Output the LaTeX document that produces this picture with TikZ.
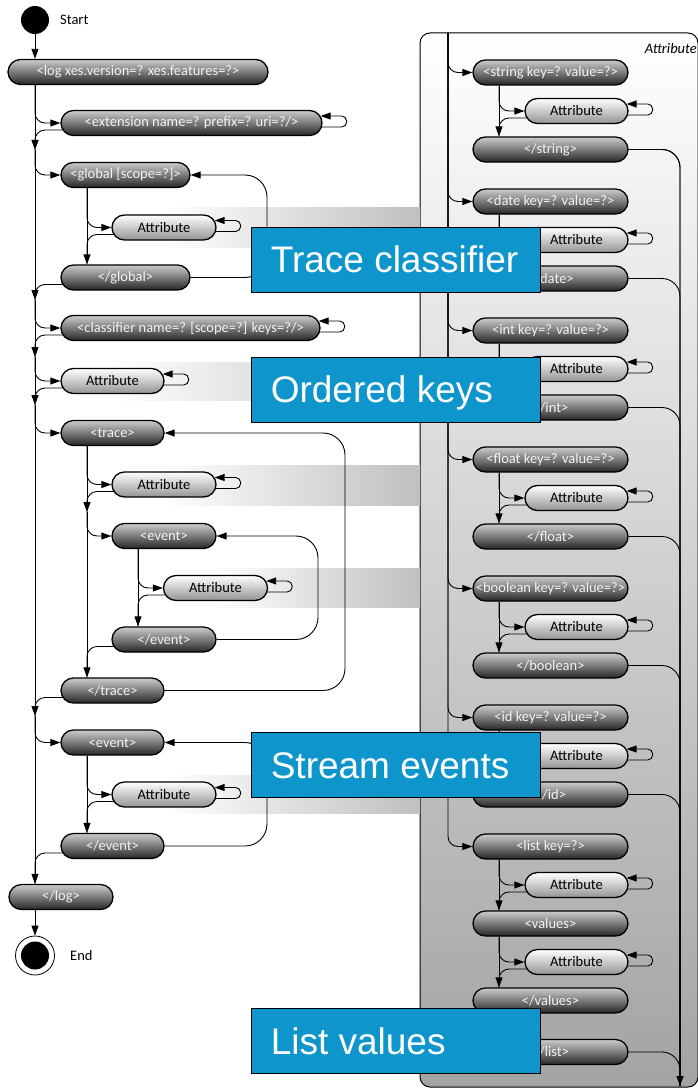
\documentclass[tikz,border=0pt]{standalone}
\usepackage{fontspec}
\setmainfont{Carlito}
\newfontfamily\calloutfont{Liberation Sans}
\usetikzlibrary{arrows.meta,calc}
\pgfdeclarelayer{bgl}
\pgfdeclarelayer{edges}
\pgfdeclarelayer{fgl}
\pgfsetlayers{bgl,edges,main,fgl}
\definecolor{callblue}{RGB}{14,150,204}
\tikzset{
  base/.style={rectangle, rounded corners=12.5pt, minimum height=25pt, inner sep=0pt, line width=1.3pt, draw=black, font=\fontsize{14.5}{15}\selectfont},
  dnode/.style={base, top color=black!20, bottom color=black!85, text=black!5},
  lnode/.style={base, top color=white, bottom color=black!42, text=black, minimum width=104pt},
  conn/.style={draw=black, line width=0.9pt, rounded corners=10pt},
  arr/.style={conn, -{Triangle[length=10pt,width=7pt]}},
  loopc/.style={arr, rounded corners=5pt},
  retc/.style={conn, rounded corners=18pt},
  retarr/.style={retc, -{Triangle[length=10pt,width=7pt]}},
  bigret/.style={arr, rounded corners=22pt},
  lbl/.style={font=\fontsize{14.5}{15}\selectfont, inner sep=0pt},
  callbox/.style={draw=black, line width=0.8pt, fill=callblue, minimum width=289pt, minimum height=65pt, inner sep=0pt},
  calltext/.style={text=white, font=\calloutfont\fontsize{37}{40}\selectfont, inner sep=0pt, anchor=base west},
  band/.style={left color=white, right color=black!25, draw=none},
}
\newcommand\selfloop[1]{\draw[loopc] ($(#1.east)+(-3,4)$) -- ($(#1.east)+(24,4)$) -- ($(#1.east)+(24,-7)$) -- ($(#1.east)+(-2,-7)$);}
\begin{document}
\begin{tikzpicture}[x=1pt,y=-1pt]
\useasboundingbox (0,0) rectangle (698,1089);
% helper coordinates
\coordinate (sx) at (35,0);
\coordinate (gx) at (87,0);
\coordinate (ex) at (138,0);
\coordinate (qx) at (499,0);
\coordinate (s1) at (35,150);
\coordinate (s2) at (35,300);
\coordinate (s3) at (35,357);
\coordinate (s4) at (35,405);
\coordinate (s5) at (35,716);
\coordinate (ts1) at (87,512);
\coordinate (pt) at (448,33);
\coordinate (retend) at (680,1086);
\coordinate (glx) at (267,0);
\coordinate (tlx) at (345,0);
\coordinate (elx) at (318,0);
\coordinate (slx) at (267,0);

% background: panel and bands
\begin{pgfonlayer}{bgl}
\path[draw=black, line width=1pt, rounded corners=10pt, top color=white, bottom color=black!36] (420,33) rectangle (698,1087);
\path[band] (164,207) rectangle (420,247);
\path[band] (112,362) rectangle (420,400);
\path[band] (164,465) rectangle (420,505);
\path[band] (215,568) rectangle (420,607);
\path[band] (164,775) rectangle (420,813);
\end{pgfonlayer}

% start / end
\node[circle, fill=black, minimum size=28pt, inner sep=0pt] (start) at (35,20) {};
\node[lbl, anchor=west] (startl) at (60,20) {Start};
\node[circle, draw=black, line width=0.8pt, fill=white, minimum size=39pt, inner sep=0pt] (end) at (35,955.5) {};
\node[circle, fill=black, minimum size=28pt, inner sep=0pt] (endin) at (end.center) {};
\node[lbl, anchor=west] (endl) at (70,956) {End};

% left nodes
\node[dnode, minimum width=260pt] (log) at (138,72) {<log xes.version=? xes.features=?>};
\node[dnode, minimum width=261pt] (ext) at (191.5,123) {<extension name=? prefix=? uri=?/>};
\node[dnode, minimum width=129pt] (glob) at (125.5,175) {<global [scope=?]>};
\node[lnode] (gattr) at (164,227.5) {Attribute};
\node[dnode, minimum width=129pt] (globe) at (125.5,277.5) {</global>};
\node[dnode, minimum width=259pt] (cls) at (190.5,328) {<classifier name=? [scope=?] keys=?/>};
\node[lnode, minimum width=103pt] (cattr) at (112.5,381) {Attribute};
\node[dnode, minimum width=103pt] (trace) at (112.5,433) {<trace>};
\node[lnode] (tattr) at (164,484.5) {Attribute};
\node[dnode, minimum width=104pt] (ev) at (164,536) {<event>};
\node[lnode] (eattr) at (215.5,588) {Attribute};
\node[dnode, minimum width=104pt] (eve) at (164,639.5) {</event>};
\node[dnode, minimum width=103pt] (tracee) at (112.5,690.5) {</trace>};
\node[dnode, minimum width=103pt] (sev) at (112.5,742.5) {<event>};
\node[lnode] (sattr) at (164,794.5) {Attribute};
\node[dnode, minimum width=103pt] (seve) at (112.5,846) {</event>};
\node[dnode, minimum width=104pt] (loge) at (61,897) {</log>};

% right panel label
\node[lbl, font=\fontsize{14.5}{15}\selectfont\itshape, anchor=east] (plabel) at (697,49) {Attribute};

% right typed groups
\foreach \nm/\tg/\yy in {s/string/72.5, d/date/201.5, i/int/330.5, f/float/459.5, b/boolean/588.5, id/id/717.5}{
  \node[dnode, minimum width=155pt] (r\nm) at (550.5,\yy) {<\tg{} key=? value=?>};
  \node[lnode, minimum width=103pt] (a\nm) at (576.5,\yy+38.5) {Attribute};
  \node[dnode, minimum width=155pt] (e\nm) at (550.5,\yy+77) {</\tg>};
  \begin{pgfonlayer}{edges}
    \draw[arr] (pt) |- (r\nm.west);
    \draw[arr] (r\nm.south -| qx) -- (e\nm.north -| qx);
    \draw[arr] (r\nm.south -| qx) |- (a\nm.west);
    \draw[conn] ($(a\nm.west)+(3,7)$) -| (e\nm.north -| qx);
    \selfloop{a\nm}
    \draw[retc] (e\nm.east) -| (retend);
  \end{pgfonlayer}
}
% list group
\node[dnode, minimum width=155pt] (rl) at (550.5,846.5) {<list key=?>};
\node[lnode, minimum width=103pt] (al) at (576.5,885) {Attribute};
\node[dnode, minimum width=155pt] (rv) at (550.5,923.5) {<values>};
\node[lnode, minimum width=103pt] (av) at (576.5,962) {Attribute};
\node[dnode, minimum width=155pt] (vend) at (550.5,1000.5) {</values>};
\node[dnode, minimum width=155pt] (lend) at (550.5,1052) {</list>};

\begin{pgfonlayer}{edges}
% right list edges
\draw[arr] (pt) |- (rl.west);
\draw[arr] (rl.south -| qx) -- (rv.north -| qx);
\draw[arr] (rl.south -| qx) |- (al.west);
\draw[conn] ($(al.west)+(3,7)$) -| (rv.north -| qx);
\selfloop{al}
\draw[arr] (rv.south -| qx) -- (vend.north -| qx);
\draw[arr] (rv.south -| qx) |- (av.west);
\draw[conn] ($(av.west)+(3,7)$) -| (vend.north -| qx);
\selfloop{av}
\draw[arr] (vend.south -| qx) -- (lend.north -| qx);
\draw[retc] (lend.east) -| (retend);
\draw[retarr] (es.east) -| (retend);

% left edges
\draw[arr] (start.south) -- (start.south |- log.north);
\draw[arr] (log.south -| sx) -- (s1);
\draw[arr] (log.south -| sx) |- (ext.west);
\draw[conn] ($(ext.west)+(3,7)$) -| (s1);
\selfloop{ext}
\draw[arr] (s1) -- (s2);
\draw[arr] (s1) |- (glob.west);
\draw[arr] (glob.south -| gx) -- (globe.north -| gx);
\draw[arr] (glob.south -| gx) |- (gattr.west);
\draw[conn] ($(gattr.west)+(3,7)$) -| (globe.north -| gx);
\selfloop{gattr}
\draw[bigret] (globe.east) -- (globe.east -| glx) -- (glob.east -| glx) -- (glob.east);
\draw[conn] ($(globe.west)+(3,7)$) -| (s2);
\draw[arr] (s2) -- (s3);
\draw[arr] (s2) |- (cls.west);
\draw[conn] ($(cls.west)+(3,7)$) -| (s3);
\selfloop{cls}
\draw[arr] (s3) -- (s4);
\draw[arr] (s3) |- (cattr.west);
\draw[conn] ($(cattr.west)+(3,7)$) -| (s4);
\selfloop{cattr}
\draw[arr] (s4) -- (s5);
\draw[arr] (s4) |- (trace.west);
\draw[arr] (trace.south -| gx) -- (ts1);
\draw[arr] (trace.south -| gx) |- (tattr.west);
\draw[conn] ($(tattr.west)+(3,7)$) -| (ts1);
\selfloop{tattr}
\draw[arr] (ts1) -- (tracee.north -| gx);
\draw[arr] (ts1) |- (ev.west);
\draw[arr] (ev.south -| ex) -- (eve.north -| ex);
\draw[arr] (ev.south -| ex) |- (eattr.west);
\draw[conn] ($(eattr.west)+(3,7)$) -| (eve.north -| ex);
\selfloop{eattr}
\draw[bigret] (eve.east) -- (eve.east -| elx) -- (ev.east -| elx) -- (ev.east);
\draw[conn] ($(eve.west)+(3,7)$) -| (tracee.north -| gx);
\draw[bigret] (tracee.east) -- (tracee.east -| tlx) -- (trace.east -| tlx) -- (trace.east);
\draw[conn] ($(tracee.west)+(3,7)$) -| (s5);
\draw[arr] (s5) -- (loge.north -| sx);
\draw[arr] (s5) |- (sev.west);
\draw[arr] (sev.south -| gx) -- (seve.north -| gx);
\draw[arr] (sev.south -| gx) |- (sattr.west);
\draw[conn] ($(sattr.west)+(3,7)$) -| (seve.north -| gx);
\selfloop{sattr}
\draw[bigret] (seve.east) -- (seve.east -| slx) -- (sev.east -| slx) -- (sev.east);
\draw[conn] ($(seve.west)+(3,7)$) -| (loge.north -| sx);
\draw[arr] (loge.south -| sx) -- (end.north);
\end{pgfonlayer}

% callouts
\begin{pgfonlayer}{fgl}
\node[callbox] (c1) at (395.5,259.5) {};
\node[calltext] (c1t) at ($(c1.west)+(20,12.5)$) {Trace classifier};
\node[callbox] (c2) at (395.5,389.5) {};
\node[calltext] (c2t) at ($(c2.west)+(20,13)$) {Ordered keys};
\node[callbox] (c3) at (395.5,765) {};
\node[calltext] (c3t) at ($(c3.west)+(20,13)$) {Stream events};
\node[callbox] (c4) at (395.5,1041) {};
\node[calltext] (c4t) at ($(c4.west)+(20,13)$) {List values};
\end{pgfonlayer}
\end{tikzpicture}
\end{document}
